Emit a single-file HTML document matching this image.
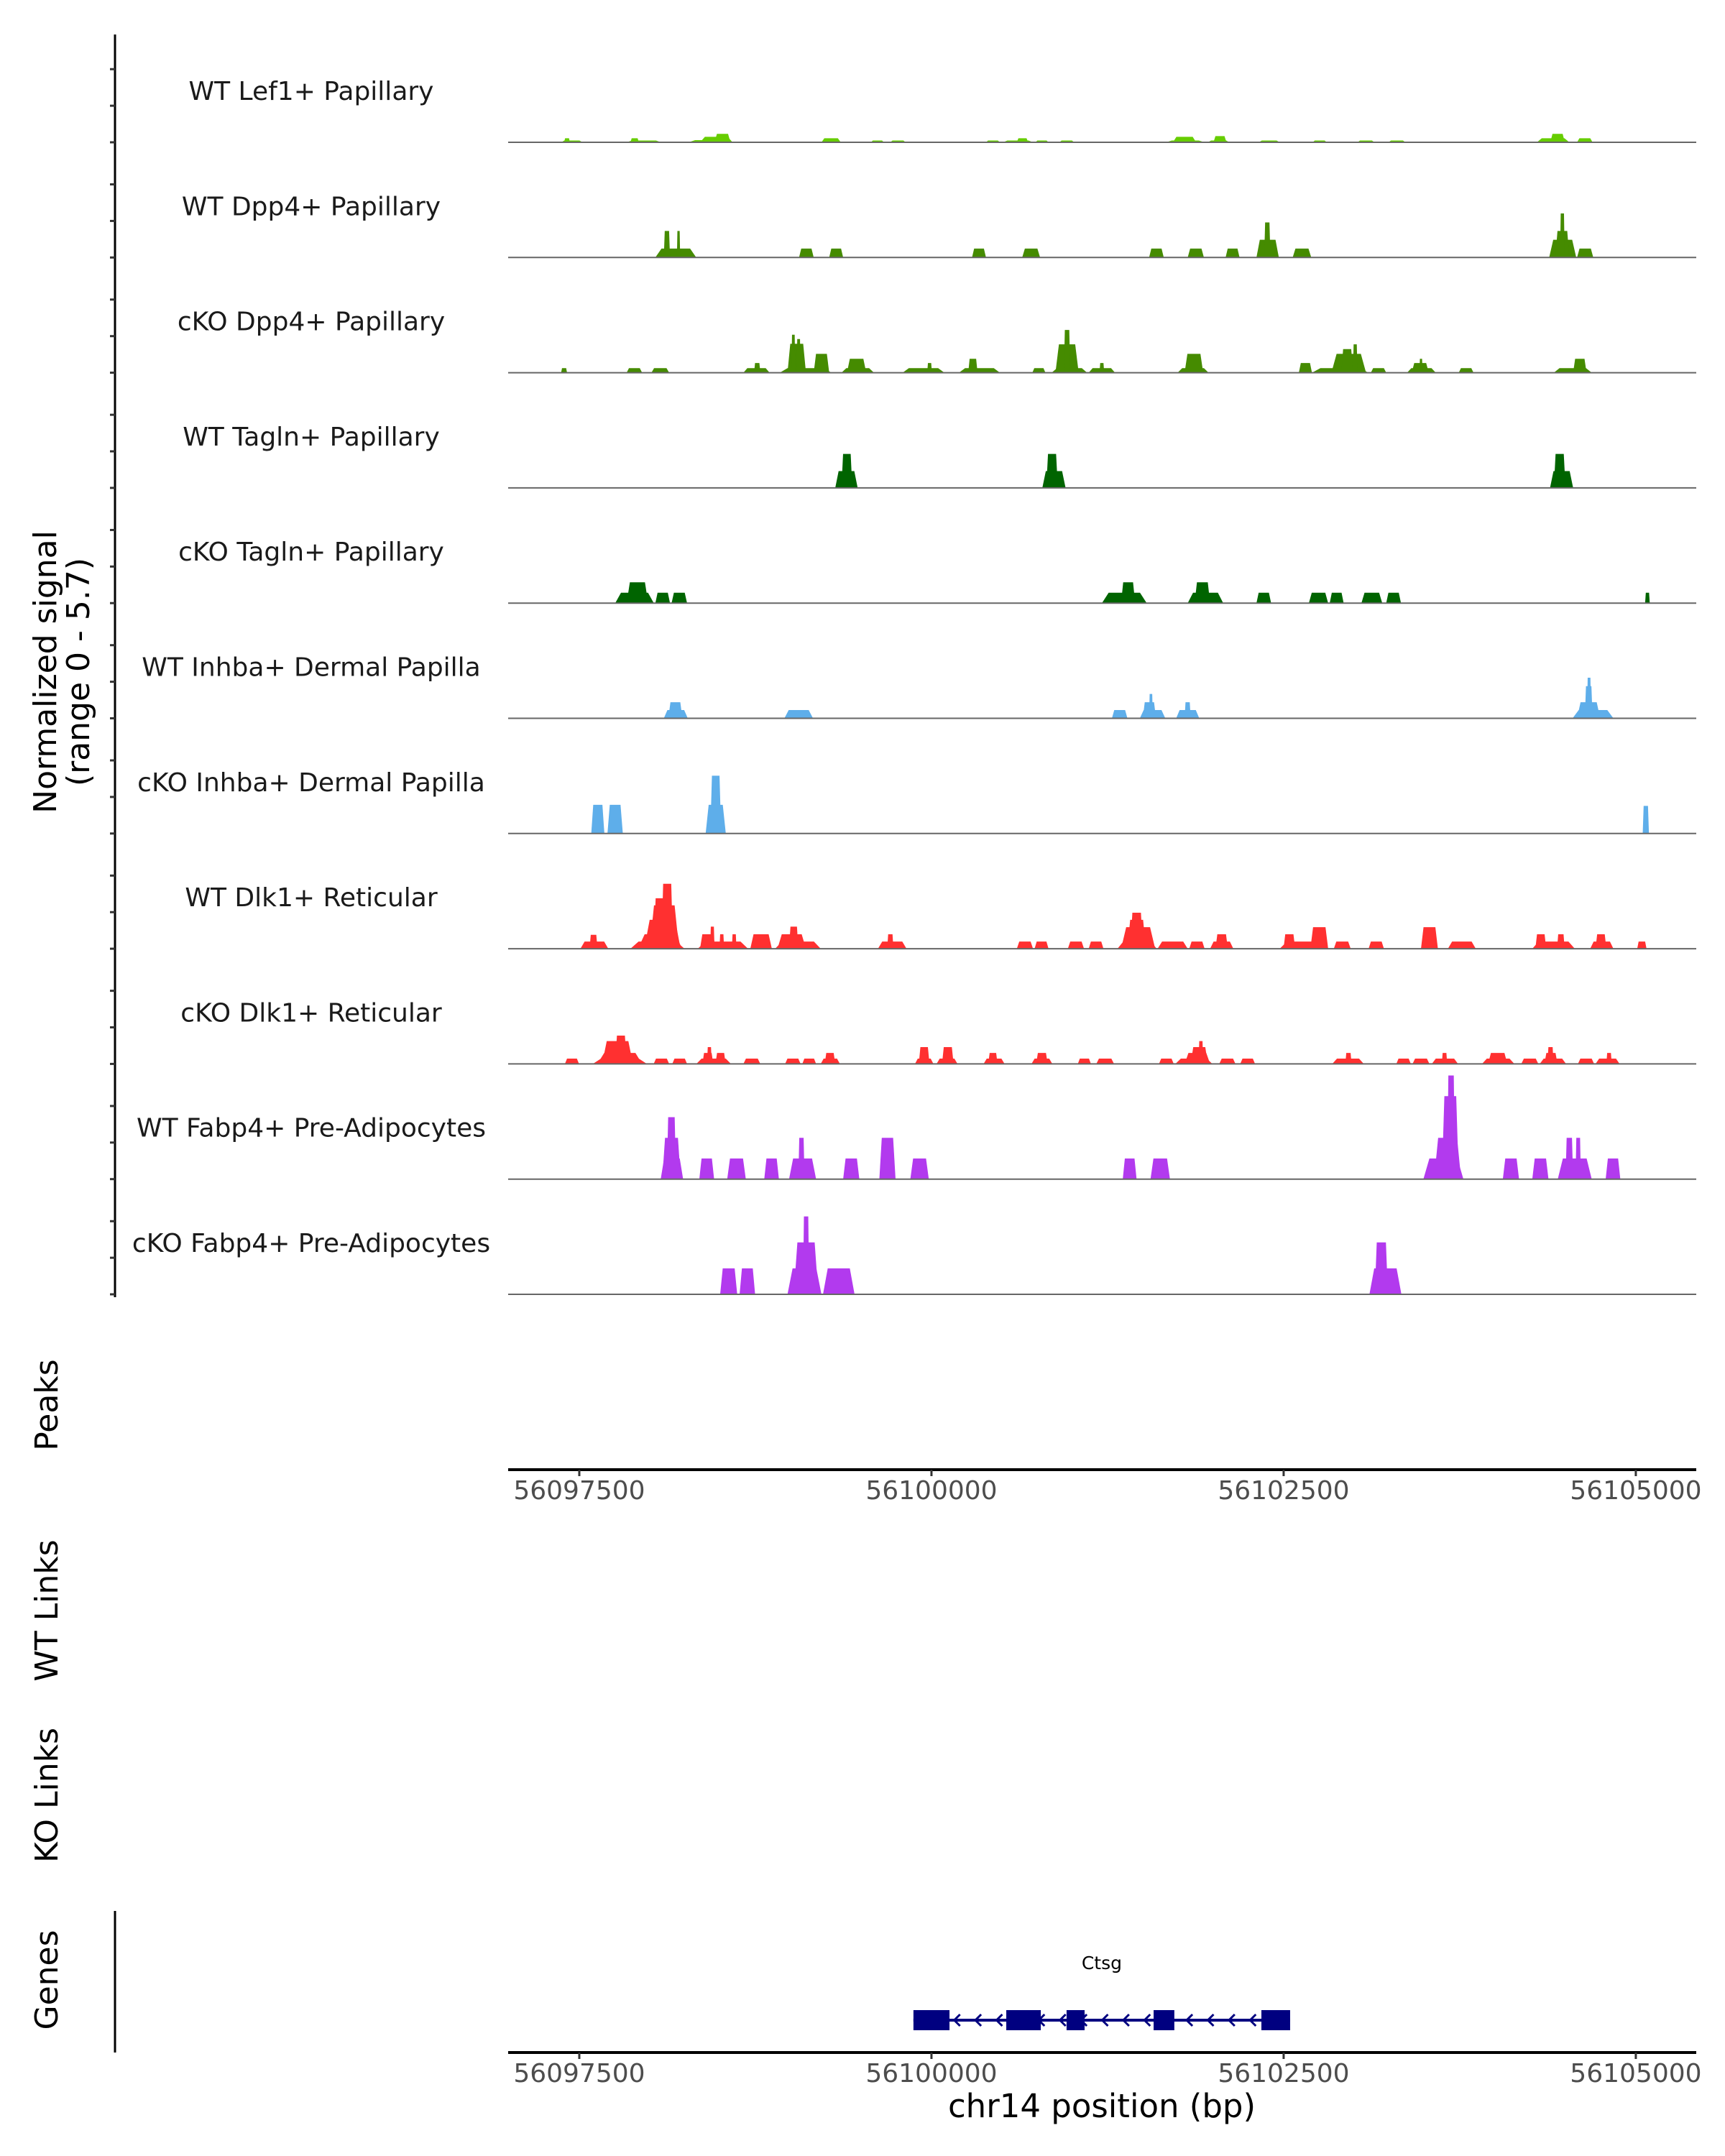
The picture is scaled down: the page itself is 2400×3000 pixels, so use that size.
<!DOCTYPE html>
<html><head><meta charset="utf-8">
<style>
html,body{margin:0;padding:0;background:#fff;}
svg{display:block;font-family:"DejaVu Sans","Liberation Sans",sans-serif;}
</style></head>
<body>
<svg id="chart" width="2400" height="3000" viewBox="0 0 2400 3000" xmlns="http://www.w3.org/2000/svg">
<g id="tracks"></g>
<g id="yaxis">
  <line x1="160" y1="48" x2="160" y2="1805" stroke="#000" stroke-width="3"/>
</g>
<text transform="translate(78,935) rotate(-90)" text-anchor="middle" font-size="44" fill="#000"><tspan x="0" y="0">Normalized signal</tspan><tspan x="0" y="46">(range 0 - 5.7)</tspan></text>
<text transform="translate(80,1955) rotate(-90)" text-anchor="middle" font-size="44">Peaks</text>
<text transform="translate(80,2241) rotate(-90)" text-anchor="middle" font-size="44">WT Links</text>
<text transform="translate(80,2498) rotate(-90)" text-anchor="middle" font-size="44">KO Links</text>
<text transform="translate(80,2755) rotate(-90)" text-anchor="middle" font-size="44">Genes</text>
<line x1="160" y1="2659" x2="160" y2="2856" stroke="#000" stroke-width="3"/>
<g id="axes"></g>
<g id="gene"></g>
<text x="1533" y="2946" text-anchor="middle" font-size="45" fill="#000">chr14 position (bp)</text>
</svg>
<script>
const CHROM_BASE = 56000000;
const X_DOMAIN = [56096995, 56105429];
const X_TICKS = [56097500, 56100000, 56102500, 56105000];
const TRACK_NAMES = ["WT Lef1+ Papillary","WT Dpp4+ Papillary","cKO Dpp4+ Papillary","WT Tagln+ Papillary","cKO Tagln+ Papillary","WT Inhba+ Dermal Papilla","cKO Inhba+ Dermal Papilla","WT Dlk1+ Reticular","cKO Dlk1+ Reticular","WT Fabp4+ Pre-Adipocytes","cKO Fabp4+ Pre-Adipocytes"];
const TRACK_COLORS = ["#66cd00","#458b00","#458b00","#006400","#006400","#5eaeea","#5eaeea","#ff3030","#ff3030","#b23aee","#b23aee"];
const Y_TICK_VALUES = [0, 2, 4];
const Y_MAX = 5.7;
// peaks: [start offset bp, end offset bp, signal]
const lef1WT = [[97371,97524,0.1],[97393,97433,0.22],[97836,98081,0.1],[97863,97923,0.22],[98275,98588,0.12],[98357,98588,0.3],[98460,98573,0.46],[99219,99356,0.22],[99570,99663,0.1],[99707,99817,0.1],[100387,100486,0.1],[100507,100721,0.1],[100605,100687,0.22],[100738,100831,0.1],[100908,101013,0.1],[101665,101939,0.1],[101714,101879,0.3],[101962,102115,0.1],[102002,102094,0.34],[102323,102472,0.1],[102706,102806,0.1],[103024,103145,0.1],[103244,103365,0.1],[104298,104528,0.22],[104393,104496,0.46],[104583,104693,0.22]];
const dpp4WT = [[98040,98330,0.49],[98100,98144,1.45],[98193,98216,1.45],[99060,99164,0.49],[99274,99373,0.49],[100288,100387,0.49],[100644,100771,0.49],[101545,101649,0.49],[101819,101934,0.49],[102088,102187,0.49],[102307,102466,0.97],[102362,102406,1.92],[102564,102696,0.49],[104385,104577,0.97],[104429,104528,1.45],[104462,104495,2.41],[104583,104698,0.49]];
const dpp4KO = [[97371,97413,0.25],[97836,97946,0.25],[98012,98138,0.25],[98665,98851,0.25],[98741,98785,0.53],[98923,99290,0.25],[98978,99109,1.58],[99006,99033,2.08],[99043,99071,1.84],[99164,99274,1.03],[99361,99592,0.25],[99400,99537,0.76],[99795,100092,0.25],[99970,100003,0.53],[100195,100486,0.25],[100261,100327,0.76],[100716,100809,0.25],[100853,101105,0.25],[100880,101045,1.55],[100940,100985,2.34],[101116,101303,0.25],[101193,101226,0.53],[101747,101967,0.25],[101797,101929,1.03],[102608,102701,0.53],[102701,103102,0.25],[102839,103085,1.03],[102910,102992,1.29],[102992,103024,1.55],[103119,103228,0.25],[103376,103580,0.25],[103409,103530,0.53],[103464,103486,0.76],[103743,103848,0.25],[104418,104687,0.25],[104555,104650,0.76]];
const taglnWT = [[99317,99476,0.92],[99361,99438,1.86],[100787,100952,0.92],[100815,100897,1.86],[104391,104555,0.92],[104418,104501,1.86]];
const taglnKO = [[97755,98029,0.57],[97836,97989,1.14],[98040,98144,0.57],[98155,98265,0.57],[101210,101528,0.57],[101346,101446,1.14],[101819,102071,0.57],[101868,101978,1.14],[102307,102411,0.57],[102679,102816,0.57],[102827,102926,0.57],[103052,103200,0.57],[103228,103333,0.57],[105066,105099,0.57]];
const inhbaWT = [[98100,98270,0.45],[98132,98232,0.88],[98956,99159,0.45],[101281,101391,0.45],[101479,101660,0.45],[101500,101594,0.88],[101545,101571,1.33],[101737,101901,0.45],[101797,101840,0.88],[104551,104841,0.45],[104583,104747,0.88],[104638,104693,1.76],[104654,104682,2.22]];
const inhbaKO = [[97585,97678,1.57],[97700,97809,1.57],[98397,98540,1.57],[98430,98507,3.16],[105049,105093,1.51]];
const dlk1WT = [[97508,97706,0.39],[97573,97629,0.76],[97863,98247,0.39],[97917,98230,0.79],[97961,98219,1.58],[97999,98208,2.37],[98028,98121,2.76],[98083,98165,3.55],[98341,98698,0.39],[98357,98467,0.79],[98429,98460,1.21],[98495,98528,0.79],[98583,98616,0.79],[98714,98867,0.79],[98890,99214,0.39],[98907,99109,0.79],[98989,99055,1.21],[99620,99823,0.39],[99686,99730,0.79],[100606,100721,0.39],[100732,100831,0.39],[100968,101083,0.39],[101116,101221,0.39],[101320,101599,0.39],[101346,101588,1.18],[101391,101522,1.58],[101413,101500,1.97],[101605,101819,0.39],[101830,101939,0.39],[101978,102143,0.39],[102016,102104,0.79],[102472,102816,0.39],[102499,102582,0.79],[102690,102816,1.18],[102856,102976,0.39],[103103,103212,0.39],[103475,103595,1.18],[103666,103864,0.39],[104265,104567,0.39],[104287,104364,0.79],[104441,104495,0.79],[104676,104841,0.39],[104714,104791,0.79],[105010,105076,0.39]];
const dlk1KO = [[97398,97498,0.29],[97596,97980,0.29],[97629,97946,0.6],[97662,97881,1.25],[97755,97836,1.55],[98028,98138,0.29],[98160,98265,0.29],[98331,98577,0.29],[98374,98451,0.6],[98407,98440,0.92],[98467,98539,0.6],[98665,98785,0.29],[98961,99071,0.29],[99083,99181,0.29],[99214,99350,0.29],[99242,99317,0.6],[99883,100014,0.29],[99910,99986,0.92],[100036,100185,0.29],[100075,100157,0.92],[100370,100519,0.29],[100403,100469,0.6],[100710,100858,0.29],[100743,100825,0.6],[101039,101132,0.29],[101170,101296,0.29],[101615,101720,0.29],[101731,101994,0.29],[101797,101978,0.6],[101840,101962,0.92],[101896,101929,1.25],[102043,102158,0.29],[102192,102297,0.29],[102845,103069,0.29],[102938,102982,0.6],[103300,103403,0.29],[103415,103535,0.29],[103552,103738,0.29],[103623,103661,0.6],[103908,104138,0.29],[103951,104088,0.6],[104187,104308,0.29],[104318,104505,0.29],[104351,104444,0.6],[104373,104416,0.92],[104589,104704,0.29],[104714,104885,0.29],[104791,104829,0.6]];
const fabp4WT = [[98078,98237,1.13],[98089,98220,2.26],[98121,98187,3.39],[98352,98457,1.13],[98550,98682,1.13],[98813,98917,1.13],[98989,99181,1.13],[99055,99099,2.26],[99373,99488,1.13],[99630,99745,2.26],[99850,99981,1.13],[101358,101456,1.13],[101555,101693,1.13],[103492,103776,1.13],[103568,103760,2.26],[103623,103743,4.54],[103661,103716,5.67],[104056,104171,1.13],[104265,104380,1.13],[104446,104687,1.13],[104501,104555,2.26],[104572,104610,2.26],[104786,104890,1.13]];
const fabp4KO = [[98500,98621,1.42],[98638,98748,1.42],[98978,99219,1.42],[99022,99197,2.84],[99088,99132,4.26],[99230,99454,1.42],[103109,103336,1.42],[103147,103240,2.84]];
const TRACK_DATA = [lef1WT,dpp4WT,dpp4KO,taglnWT,taglnKO,inhbaWT,inhbaKO,dlk1WT,dlk1KO,fabp4WT,fabp4KO];
const GENE_NAME = "Ctsg";
const GENE_SPAN = [56099872, 56102546];
const GENE_EXONS = [[56099872,56100128],[56100531,56100776],[56100959,56101087],[56101577,56101724],[56102342,56102546]];

const NS = "http://www.w3.org/2000/svg";
const PX0 = 707, PX1 = 2360;
function xScale(bp){ return PX0 + (bp - X_DOMAIN[0]) / (X_DOMAIN[1] - X_DOMAIN[0]) * (PX1 - PX0); }
const FIRST_BASE = 198, TRACK_STEP = 160.3, UNIT_PX = 145 / Y_MAX;
function yScale(i, v){ return FIRST_BASE + i * TRACK_STEP - v * UNIT_PX; }
function mk(tag, attrs, parent){ const e = document.createElementNS(NS, tag); for (const k in attrs) e.setAttribute(k, attrs[k]); parent.appendChild(e); return e; }

const tracks = document.getElementById('tracks');
const yaxis = document.getElementById('yaxis');
TRACK_NAMES.forEach((name, i) => {
  const g = mk('g', {}, tracks);
  
  
  const base = yScale(i, 0);
  const lbl = mk('text', {x: 433, y: base - 59, 'text-anchor': 'middle', 'font-size': 36, fill: '#1a1a1a'}, g);
  lbl.textContent = name;
  
  
  TRACK_DATA[i].forEach(p => {
    const x0 = xScale(CHROM_BASE + p[0]), x1 = xScale(CHROM_BASE + p[1]);
    const inset = (x1 - x0) * 0.15;
    const yt = yScale(i, p[2]);
    const poly = mk('polygon', {points: `${x0},${base} ${x0+inset},${yt} ${x1-inset},${yt} ${x1},${base}`, fill: TRACK_COLORS[i]}, g);
    
    
  });
  const bl = mk('line', {x1: PX0, x2: PX1, y1: base, y2: base, stroke: '#666', 'stroke-width': 2}, g);
  
  
  Y_TICK_VALUES.forEach(v => {
    const t = mk('line', {x1: 153, x2: 160, y1: yScale(i, v), y2: yScale(i, v), stroke: '#333', 'stroke-width': 3}, yaxis);
    
    
  });
});

const axes = document.getElementById('axes');
[2045, 2856].forEach(y => {
  const l = mk('line', {x1: PX0, x2: PX1, y1: y, y2: y, stroke: '#000', 'stroke-width': 4}, axes);
  
  
  X_TICKS.forEach(t => {
    const x = xScale(t);
    const tk = mk('line', {x1: x, x2: x, y1: y, y2: y + 9, stroke: '#333', 'stroke-width': 3}, axes);
    
    
    const tl = mk('text', {x: x, y: y + 41, 'text-anchor': 'middle', 'font-size': 36, fill: '#4d4d4d'}, axes);
    tl.textContent = String(t);
    
    
  });
});

const gene = document.getElementById('gene');
const gy = 2811;
const gl = mk('line', {x1: xScale(GENE_SPAN[0]), x2: xScale(GENE_SPAN[1]), y1: gy, y2: gy, stroke: '#000080', 'stroke-width': 4}, gene);


for (let bp = GENE_SPAN[0] + 150; bp < GENE_SPAN[1] - 100; bp += 150) {
  const x = xScale(bp);
  const ch = mk('polyline', {points: `${x+6},${gy-8} ${x-2},${gy} ${x+6},${gy+8}`, fill: 'none', stroke: '#000080', 'stroke-width': 3}, gene);
  
  
}
GENE_EXONS.forEach(e => {
  const r = mk('rect', {x: xScale(e[0]), y: gy - 14, width: xScale(e[1]) - xScale(e[0]), height: 28, fill: '#000080'}, gene);
  
  
});
const gn = mk('text', {x: xScale((GENE_SPAN[0] + GENE_SPAN[1]) / 2), y: 2740, 'text-anchor': 'middle', 'font-size': 25, fill: '#000'}, gene);
gn.textContent = GENE_NAME;


</script>
</body></html>
